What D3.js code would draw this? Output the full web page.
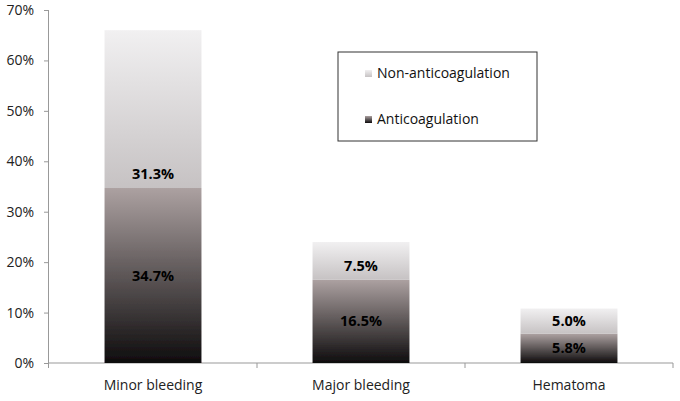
<!DOCTYPE html>
<html>
<head>
<meta charset="utf-8">
<script src="https://cdn.jsdelivr.net/npm/d3@7"></script>
<style>
  body { margin: 0; background: #fff; }
  text { font-family: "Open Sans", "Liberation Sans", sans-serif; fill: #000; }
</style>
</head>
<body>
<svg id="chart" width="680" height="401"></svg>
<script>
// data
var categories = ['Minor bleeding', 'Major bleeding', 'Hematoma'];
var anticoag = [34.7, 16.5, 5.8];
var nonAnticoag = [31.3, 7.5, 5.0];
var seriesNames = ['Non-anticoagulation', 'Anticoagulation'];
var yTicks = [0, 10, 20, 30, 40, 50, 60, 70];

var svg = d3.select('#chart');
var m = {left: 49, right: 7, top: 10, bottom: 38};
var W = 680, H = 401;

var x = d3.scaleBand().domain(categories).range([m.left, W - m.right]).paddingInner(0).paddingOuter(0);
var y = d3.scaleLinear().domain([0, 70]).range([H - m.bottom, m.top]);
var barW = x.bandwidth() * 0.466;

var defs = svg.append('defs');
function grad(id, top, bottom) {
  var g = defs.append('linearGradient').attr('id', id)
    .attr('x1', 0).attr('y1', 0).attr('x2', 0).attr('y2', 1);
  g.append('stop').attr('offset', '0%').attr('stop-color', top);
  g.append('stop').attr('offset', '100%').attr('stop-color', bottom);
}
grad('gAnti', '#aca1a1', '#0e0c0d');
grad('gNon', '#f1f0f1', '#c6c2c3');
defs.append('filter').attr('id', 'soft')
  .append('feGaussianBlur').attr('stdDeviation', 0.7);

// y axis
var yAxis = svg.append('g').attr('transform', 'translate(' + m.left + ',0)')
  .call(d3.axisLeft(y).tickValues(yTicks).tickSize(5).tickFormat(function (d) { return d + '%'; }));
yAxis.select('.domain').attr('d', 'M-0.5,' + y(70) + 'V' + (y(0) + 5)).attr('stroke', '#999');
yAxis.selectAll('.tick line').attr('stroke', '#999');
yAxis.selectAll('.tick text').attr('x', -15).style('font-size', '14px').style('fill', '#222');

// x axis
var xAxis = svg.append('g').attr('transform', 'translate(0,' + y(0) + ')');
xAxis.append('line').attr('x1', m.left).attr('x2', W - m.right).attr('y1', 0).attr('y2', 0).attr('stroke', '#999');
xAxis.selectAll('.tk').data(categories.slice(1).concat(['end'])).enter().append('line')
  .attr('x1', function (d, i) { return m.left + x.bandwidth() * (i + 1); })
  .attr('x2', function (d, i) { return m.left + x.bandwidth() * (i + 1); })
  .attr('y1', 0).attr('y2', 5).attr('stroke', '#999');
xAxis.selectAll('.lbl').data(categories).enter().append('text')
  .attr('x', function (d) { return x(d) + x.bandwidth() / 2; })
  .attr('y', 27).attr('text-anchor', 'middle')
  .style('font-size', '14px').style('fill', '#222')
  .text(function (d) { return d; });

// bars
var bars = svg.append('g').attr('filter', 'url(#soft)');
var labels = svg.append('g');
categories.forEach(function (c, i) {
  var cx = x(c) + x.bandwidth() / 2;
  var a = anticoag[i], n = nonAnticoag[i];
  bars.append('rect').attr('x', cx - barW / 2).attr('width', barW)
    .attr('y', y(a)).attr('height', y(0) - y(a)).attr('fill', 'url(#gAnti)');
  bars.append('rect').attr('x', cx - barW / 2).attr('width', barW)
    .attr('y', y(a + n)).attr('height', y(a) - y(a + n)).attr('fill', 'url(#gNon)');
  labels.append('text').attr('x', cx).attr('y', (y(0) + y(a)) / 2 + 5)
    .attr('text-anchor', 'middle').style('font-size', '14.5px').style('font-weight', 'bold')
    .text(a.toFixed(1) + '%');
  // upper label sits just above the segment boundary when the segment is tall
  var uy = Math.max((y(a) + y(a + n)) / 2, y(a) - 14);
  labels.append('text').attr('x', cx).attr('y', uy + 5)
    .attr('text-anchor', 'middle').style('font-size', '14.5px').style('font-weight', 'bold')
    .text(n.toFixed(1) + '%');
});

// legend
var lg = svg.append('g').attr('transform', 'translate(338,52)');
lg.append('rect').attr('width', 199).attr('height', 89).attr('fill', '#fff').attr('stroke', '#333').attr('stroke-width', 1);
var lgFill = ['url(#gNon)', 'url(#gAnti)'];
seriesNames.forEach(function (s, i) {
  var ly = 21 + i * 46;
  lg.append('rect').attr('x', 27).attr('y', ly - 3).attr('width', 7).attr('height', 7).attr('fill', lgFill[i]);
  lg.append('text').attr('x', 39).attr('y', ly + 5).style('font-size', '14px').style('fill', '#111').text(s);
});
</script>
</body>
</html>
